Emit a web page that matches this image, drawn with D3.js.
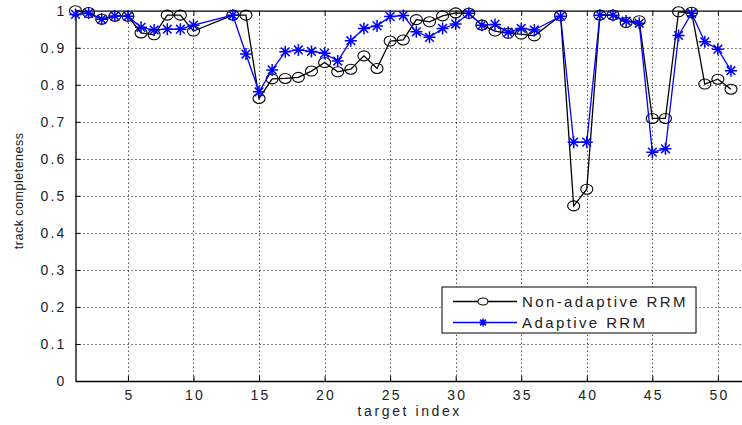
<!DOCTYPE html>
<html>
<head>
<meta charset="utf-8">
<script src="https://cdn.jsdelivr.net/npm/d3@7"></script>
<style>
  html, body { margin: 0; padding: 0; background: #fff; overflow: hidden; }
  svg { display: block; }
  text { font-family: "Liberation Sans", Arial, sans-serif; fill: #222; }
</style>
</head>
<body>
<svg id="chart" width="742" height="425"></svg>
<script>
// Target indices (11, 12 and 37 are not recorded)
const targetIndex = [1,2,3,4,5,6,7,8,9,10,
  13,14,15,16,17,18,19,20,21,22,23,24,25,26,27,28,29,30,31,32,33,34,35,36,
  38,39,40,41,42,43,44,45,46,47,48,49,50,51];

const nonAdaptive = [1.0,0.995,0.977,0.985,0.985,0.94,0.935,0.988,0.988,0.945,
  0.988,0.988,0.763,0.816,0.817,0.82,0.837,0.86,0.835,0.842,0.878,0.844,0.918,0.921,
  0.976,0.97,0.986,0.994,0.993,0.961,0.945,0.939,0.937,0.932,
  0.987,0.473,0.518,0.988,0.988,0.968,0.973,0.709,0.709,0.997,0.996,0.802,0.815,0.788];

const adaptive = [0.99,0.993,0.977,0.986,0.985,0.955,0.948,0.95,0.95,0.961,
  0.988,0.883,0.781,0.84,0.889,0.894,0.89,0.885,0.864,0.919,0.952,0.959,0.984,0.987,
  0.943,0.928,0.952,0.964,0.993,0.961,0.963,0.942,0.952,0.948,
  0.985,0.645,0.645,0.988,0.988,0.972,0.966,0.618,0.627,0.933,0.993,0.916,0.896,0.838];

const xTicks = [5,10,15,20,25,30,35,40,45,50];
const yTicks = [0,0.1,0.2,0.3,0.4,0.5,0.6,0.7,0.8,0.9,1];
const seriesNames = ["Non-adaptive RRM", "Adaptive RRM"];

const svg = d3.select("#chart");
const plotLeft = 75.5, plotTop = 10.7, plotBottom = 381, plotRight = 744.1;

const x = d3.scaleLinear().domain([1, 52]).range([plotLeft, plotRight]);
const y = d3.scaleLinear().domain([0, 1]).range([plotBottom, plotTop]);

// dotted grid
const grid = svg.append("g").attr("stroke", "#000").attr("stroke-width", 1)
  .attr("stroke-dasharray", "1,3");
grid.selectAll("line.vx").data(xTicks).enter().append("line")
  .attr("x1", d => Math.round(x(d)) + 0.5).attr("x2", d => Math.round(x(d)) + 0.5)
  .attr("y1", plotTop).attr("y2", plotBottom);
grid.selectAll("line.hy").data(yTicks.filter(d => d > 0 && d < 1)).enter().append("line")
  .attr("y1", d => Math.round(y(d)) + 0.5).attr("y2", d => Math.round(y(d)) + 0.5)
  .attr("x1", plotLeft).attr("x2", plotRight);

// axes (ticks pointing inward, box on top)
const fmtY = d => (d === 0 || d === 1) ? String(d) : d3.format(".1f")(d);
const xAxis = d3.axisBottom(x).tickValues(xTicks).tickSizeInner(-5).tickSizeOuter(0).tickPadding(9);
const yAxis = d3.axisLeft(y).tickValues(yTicks).tickFormat(fmtY).tickSizeInner(-5).tickSizeOuter(0).tickPadding(9);
const xTop = d3.axisTop(x).tickValues(xTicks).tickSizeInner(-5).tickSizeOuter(0).tickFormat("");

const gx = svg.append("g").attr("transform", `translate(0,${plotBottom})`).call(xAxis);
const gy = svg.append("g").attr("transform", `translate(${plotLeft},0)`).call(yAxis);
const gt = svg.append("g").attr("transform", `translate(0,${plotTop})`).call(xTop);
[gx, gy, gt].forEach(g => {
  g.selectAll("path.domain").attr("stroke", "#000").attr("stroke-width", 1.3);
  g.selectAll(".tick line").attr("stroke", "#000");
  g.selectAll("text").attr("font-size", 14).attr("letter-spacing", 2.2)
    .attr("font-family", "Liberation Sans, Arial, sans-serif").attr("fill", "#222");
});
gx.selectAll("text").attr("dy", "0.71em").attr("dx", "1px");

// axis titles
svg.append("text").attr("x", x(26.5)).attr("y", 416).attr("text-anchor", "middle")
  .attr("font-size", 14).attr("letter-spacing", 2.6).text("target index");
svg.append("text").attr("transform", `translate(23,${(plotTop + plotBottom) / 2 - 5}) rotate(-90)`)
  .attr("text-anchor", "middle").attr("font-size", 12.5).attr("letter-spacing", 0.5)
  .text("track completeness");

// series
const pts = vals => vals.map((v, i) => [targetIndex[i], v]);
const line = d3.line().x(d => x(d[0])).y(d => y(d[1]));
const blue = "#0000ff";

const starPath = (cx, cy, s) => {
  const d = s * 0.72;
  return `M${cx - s},${cy}L${cx + s},${cy}M${cx},${cy - s}L${cx},${cy + s}` +
    `M${cx - d},${cy - d}L${cx + d},${cy + d}M${cx - d},${cy + d}L${cx + d},${cy - d}`;
};

const plot = svg.append("g");
plot.append("path").datum(pts(nonAdaptive)).attr("d", line)
  .attr("fill", "none").attr("stroke", "#000").attr("stroke-width", 1.3);
plot.selectAll("ellipse.na").data(pts(nonAdaptive)).enter().append("ellipse")
  .attr("cx", d => x(d[0])).attr("cy", d => y(d[1])).attr("rx", 6).attr("ry", 5)
  .attr("fill", "none").attr("stroke", "#000").attr("stroke-width", 1.1);

plot.append("path").datum(pts(adaptive)).attr("d", line)
  .attr("fill", "none").attr("stroke", blue).attr("stroke-width", 1.3);
plot.selectAll("path.ad").data(pts(adaptive)).enter().append("path")
  .attr("d", d => starPath(x(d[0]), y(d[1]), 6))
  .attr("fill", "none").attr("stroke", blue).attr("stroke-width", 1.5);

// legend
const lg = svg.append("g").attr("transform", "translate(442,287)");
lg.append("rect").attr("x", 0).attr("y", 0).attr("width", 254).attr("height", 46)
  .attr("fill", "#fff").attr("stroke", "#000").attr("stroke-width", 1);
const rows = [
  { name: seriesNames[0], color: "#000", marker: "circle", y: 14.5 },
  { name: seriesNames[1], color: blue, marker: "star", y: 35.5 }
];
rows.forEach(r => {
  lg.append("line").attr("x1", 11).attr("x2", 75).attr("y1", r.y).attr("y2", r.y)
    .attr("stroke", r.color).attr("stroke-width", 1.3);
  if (r.marker === "circle") {
    lg.append("ellipse").attr("cx", 41).attr("cy", r.y).attr("rx", 5).attr("ry", 3.5)
      .attr("fill", "#fff").attr("stroke", r.color).attr("stroke-width", 1.1);
  } else {
    lg.append("path").attr("d", starPath(41, r.y, 4)).attr("stroke", r.color)
      .attr("stroke-width", 1.5).attr("fill", "none");
  }
  lg.append("text").attr("x", 80).attr("y", r.y).attr("dy", "0.36em")
    .attr("font-size", 15).attr("letter-spacing", 2.4).text(r.name);
});
</script>
</body>
</html>
